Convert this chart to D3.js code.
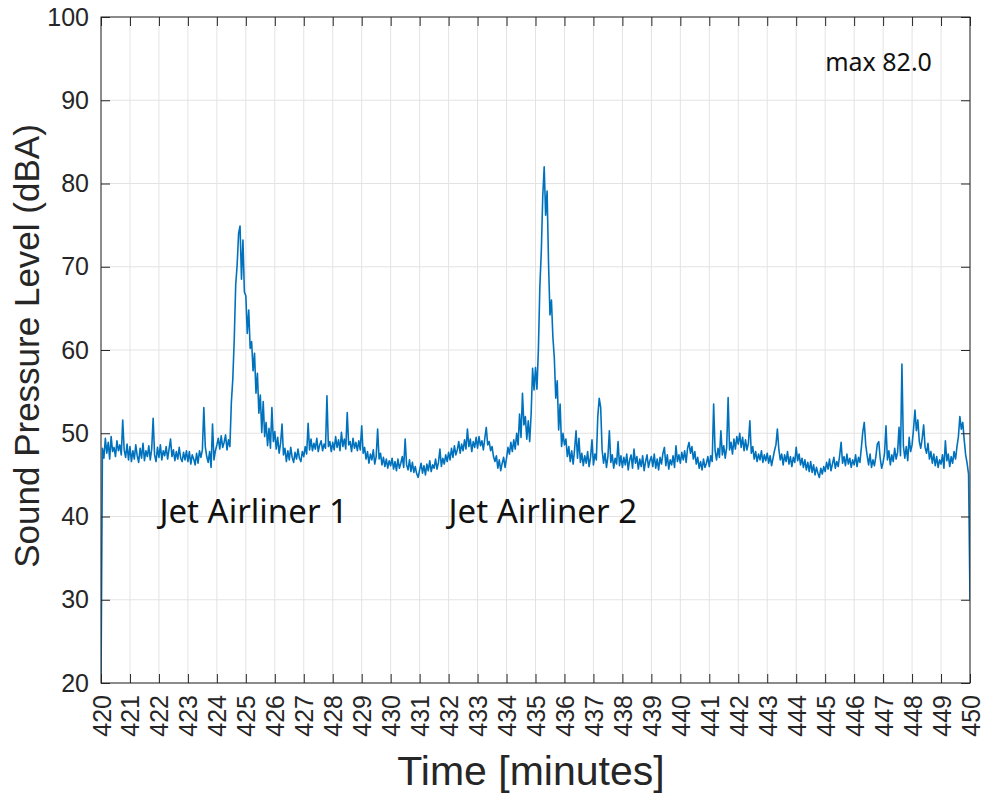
<!DOCTYPE html>
<html>
<head>
<meta charset="utf-8">
<script src="https://cdn.jsdelivr.net/npm/d3@7"></script>
<style>
  body { margin: 0; background: #fff; }
  svg { display: block; }
</style>
</head>
<body>
<svg id="chart" width="984" height="794"></svg>
<script>
// sample clock: first sample at 420 min, one sample every 0.05 min (3 s)
const startTime = 420;
const sampleStep = 0.05;

// sound level (dBA), one row per minute, 20 samples each
const levels = [
  20.0, 48.2, 47.0, 49.4, 47.6, 48.9, 46.9, 49.6, 47.8, 48.3, 47.2, 49.1, 47.9, 48.6, 47.4, 51.6, 48.0, 47.1, 48.7, 46.8,  // 420
  48.4, 46.6, 47.9, 46.9, 48.6, 47.3, 46.5, 48.2, 47.0, 48.8, 46.7, 47.9, 47.2, 48.5, 46.8, 48.1, 51.8, 47.4, 46.6, 48.3,  // 421
  47.1, 48.6, 46.8, 47.9, 47.3, 48.4, 46.9, 48.1, 49.3, 47.2, 48.0, 46.7, 47.8, 46.9, 48.3, 47.0, 46.6, 47.7, 46.8, 47.9,  // 422
  46.6, 47.8, 46.3, 47.4, 46.9, 46.2, 47.6, 46.4, 47.9, 47.1, 48.0, 53.1, 48.4, 47.2, 46.5, 47.8, 45.9, 51.1, 46.8, 47.9,  // 423
  48.6, 49.4, 48.1, 49.7, 48.3, 48.9, 49.8, 48.0, 49.2, 48.4, 53.7, 56.5, 61.3, 67.8, 70.2, 74.0, 74.9, 68.5, 73.2, 67.0,  // 424
  66.5, 62.0, 64.8, 60.2, 61.0, 57.5, 59.6, 54.8, 57.2, 52.4, 54.6, 50.1, 53.8, 49.6, 51.3, 48.5, 50.6, 48.2, 53.1, 49.0,  // 425
  50.2, 48.1, 49.5, 47.6, 48.8, 51.1, 47.4, 48.2, 46.6, 47.9, 46.8, 48.3, 47.1, 46.5, 47.7, 46.9, 48.1, 47.0, 46.6, 47.8,  // 426
  47.2, 48.4, 47.5, 51.2, 48.0, 49.3, 47.9, 48.8, 48.1, 49.4, 47.8, 48.6, 49.1, 47.9, 48.7, 48.2, 54.5, 48.4, 49.0, 47.8,  // 427
  48.9, 48.0, 49.6, 48.3, 49.2, 47.9, 50.1, 48.4, 49.3, 48.1, 52.5, 48.6, 49.0, 47.8, 49.4, 48.2, 48.9, 47.9, 49.1, 48.0,  // 428
  50.9, 47.6, 48.3, 46.9, 47.8, 46.4, 47.5, 46.8, 48.0, 46.3, 47.2, 50.5, 46.9, 47.6, 46.2, 47.1, 46.0, 46.9, 45.8, 46.7,  // 429
  46.1, 47.0, 45.7, 46.6, 45.5, 46.9, 45.8, 46.4, 47.2, 45.9, 49.3, 46.2, 45.6, 46.8, 45.4, 46.5, 45.3, 46.0, 45.1, 44.7,  // 430
  45.6, 46.4, 45.2, 46.1, 45.0, 46.3, 45.5, 46.7, 45.4, 46.2, 45.8, 46.9, 45.7, 46.5, 48.1, 46.0, 47.0, 46.3, 47.4, 46.6,  // 431
  47.7, 46.8, 48.2, 47.1, 48.5, 47.4, 48.0, 49.0, 47.6, 48.7, 47.9, 49.2, 48.1, 50.5, 48.4, 49.3, 47.8, 49.0, 48.3, 49.5,  // 432
  48.2, 49.6, 48.5, 49.1, 48.0, 49.4, 50.7, 48.6, 49.0, 47.9, 48.4, 47.2, 46.6, 47.3, 45.8, 46.8, 45.5, 46.4, 47.1, 45.9,  // 433
  47.0, 48.3, 47.5, 48.9, 47.8, 49.2, 48.1, 50.0, 48.6, 52.3, 49.5, 54.8, 51.0, 52.0, 49.3, 51.5, 49.0, 52.4, 57.8, 55.2,  // 434
  57.9, 55.3, 60.1, 67.6, 71.8, 78.4, 82.0, 76.2, 79.1, 70.4, 64.2, 66.0, 61.6, 59.0, 54.2, 56.3, 50.4, 53.5, 48.4, 50.0,  // 435
  48.6, 49.3, 47.2, 48.4, 46.6, 47.9, 46.3, 48.1, 50.3, 47.0, 49.4, 46.5, 47.6, 46.1, 47.3, 46.4, 47.8, 46.0, 47.1, 49.2,  // 436
  46.2, 47.5, 46.8, 52.0, 54.2, 53.1, 48.0, 46.4, 47.6, 45.9, 47.2, 50.3, 46.5, 47.4, 45.8, 47.0, 46.3, 49.0, 46.1, 47.3,  // 437
  45.9, 47.1, 46.2, 47.5, 45.6, 46.8, 47.4, 45.8, 48.1, 46.4, 47.2, 45.7, 46.9, 46.0, 47.3, 45.5, 46.6, 47.4, 45.9, 46.7,  // 438
  47.2, 46.0, 47.5, 45.8, 46.9, 45.6, 47.1, 46.3, 47.6, 48.3, 46.1, 47.4, 45.7, 46.8, 46.2, 47.3, 45.9, 48.5, 46.6, 47.4,  // 439
  46.4, 47.7, 46.8, 47.9, 46.5, 48.2, 48.9, 47.6, 48.4, 46.9, 47.8, 46.3, 47.1, 45.8, 46.6, 45.6, 46.9, 45.9, 46.4, 47.2,  // 440
  46.0, 47.3, 46.6, 53.5, 47.9, 46.8, 48.2, 47.1, 50.3, 47.4, 48.5, 47.0, 48.3, 54.3, 48.0, 48.9, 47.5, 49.3, 48.1, 49.6,  // 441
  48.7, 50.0, 48.3, 49.5, 47.9, 49.2, 48.0, 48.8, 51.5, 47.6, 48.4, 46.9, 47.8, 46.6, 47.5, 46.8, 47.9, 46.5, 47.4, 46.7,  // 442
  47.6, 46.4, 47.3, 46.1, 47.0, 47.9, 48.6, 50.5, 48.1, 46.8, 47.5, 46.2, 47.4, 46.6, 47.8, 46.3, 47.2, 46.0, 47.1, 46.5,  // 443
  48.3, 46.7, 47.5, 46.2, 47.0, 45.9, 46.8, 45.6, 46.5, 45.4, 46.6, 45.3, 46.2, 45.0, 45.9, 45.2, 44.7, 45.8, 45.1, 46.0,  // 444
  45.4, 46.5, 45.7, 46.9, 45.5, 46.3, 47.1, 45.8, 46.6, 46.0, 47.3, 48.9, 46.4, 47.2, 46.1, 47.5, 46.3, 47.0, 45.9, 46.8,  // 445
  46.2, 47.4, 46.0, 47.1, 46.5, 48.3, 50.2, 51.3, 48.6, 47.3, 46.2, 47.5, 45.9, 46.8, 46.1, 47.2, 48.7, 49.0, 47.0, 45.8,  // 446
  46.5, 47.6, 50.9, 46.8, 47.9, 46.2, 47.4, 46.6, 48.2, 46.9, 47.7, 50.7, 47.3, 58.3, 48.5, 47.0, 48.4, 46.7, 49.5, 47.8,  // 447
  48.6, 50.5, 52.8, 50.3, 51.6, 49.0, 48.2, 49.4, 51.0, 48.3, 47.6, 48.8, 46.9, 47.8, 46.4, 47.5, 46.1, 47.2, 45.9, 46.8,  // 448
  46.3, 47.4, 45.8, 49.1, 46.7, 47.5, 46.0, 47.2, 46.4, 47.8, 46.9, 48.4, 49.6, 52.0, 50.5, 51.3, 49.2, 47.4, 46.4, 45.1,  // 449
  30.0                                                                                                                    // 450
];

const xTicks = d3.range(420, 451);
const yTicks = [20, 30, 40, 50, 60, 70, 80, 90, 100];

const notes = [
  { text: "Jet Airliner 1", t: 422.02, db: 39.25 },
  { text: "Jet Airliner 2", t: 432.0, db: 39.25 }
];

const margin = { top: 17, right: 14, bottom: 111, left: 101 };
const width = 984 - margin.left - margin.right;
const height = 794 - margin.top - margin.bottom;

const tickFont = "'Liberation Sans', Arial, Helvetica, sans-serif";
const noteFont = "'Noto Sans', 'Open Sans', sans-serif";
const ink = "#262626";

const svg = d3.select("#chart");
const g = svg.append("g")
  .attr("transform", "translate(" + margin.left + "," + margin.top + ")");

const x = d3.scaleLinear().domain([420, 450]).range([0, width]);
const y = d3.scaleLinear().domain([20, 100]).range([height, 0]);

// grid
g.append("g").selectAll("line")
  .data(xTicks)
  .enter().append("line")
    .attr("x1", d => x(d)).attr("x2", d => x(d))
    .attr("y1", 0).attr("y2", height)
    .attr("stroke", "#e3e3e3").attr("stroke-width", 1);

g.append("g").selectAll("line")
  .data(yTicks)
  .enter().append("line")
    .attr("x1", 0).attr("x2", width)
    .attr("y1", d => y(d)).attr("y2", d => y(d))
    .attr("stroke", "#e3e3e3").attr("stroke-width", 1);

// the trace
svg.append("defs").append("clipPath").attr("id", "plotclip")
  .append("rect").attr("x", 0).attr("y", 0).attr("width", width).attr("height", height);

const line = d3.line()
  .x((d, i) => x(startTime + i * sampleStep))
  .y(d => y(d));

g.append("path")
  .datum(levels)
  .attr("clip-path", "url(#plotclip)")
  .attr("fill", "none")
  .attr("stroke", "#0072BD")
  .attr("stroke-width", 1.6)
  .attr("stroke-linejoin", "round")
  .attr("d", line);

// axes, ticks pointing inward on all four sides
const xAxis = g.append("g")
  .attr("transform", "translate(0," + height + ")")
  .call(d3.axisBottom(x).tickValues(xTicks).tickSize(-9).tickSizeOuter(0).tickFormat(d3.format("d")));

xAxis.selectAll("text")
  .attr("transform", "rotate(-90)")
  .attr("text-anchor", "end")
  .attr("x", -12)
  .attr("y", 0)
  .attr("dy", "0.36em");

g.append("g")
  .call(d3.axisTop(x).tickValues(xTicks).tickSize(-9).tickSizeOuter(0).tickFormat(""));

g.append("g")
  .call(d3.axisLeft(y).tickValues(yTicks).tickSize(-9).tickSizeOuter(0).tickPadding(12));

g.append("g")
  .attr("transform", "translate(" + width + ",0)")
  .call(d3.axisRight(y).tickValues(yTicks).tickSize(-9).tickSizeOuter(0).tickFormat(""));

g.selectAll(".domain").remove();
g.selectAll(".tick line").attr("stroke", ink).attr("stroke-width", 1);
g.selectAll(".tick text")
  .attr("fill", ink)
  .style("font-family", tickFont)
  .style("font-size", "25px");

// frame
g.append("rect")
  .attr("width", width).attr("height", height)
  .attr("fill", "none").attr("stroke", ink).attr("stroke-width", 1);

// axis titles
svg.append("text")
  .attr("transform", "translate(39," + (margin.top + height / 2 - 4) + ") rotate(-90)")
  .attr("text-anchor", "middle")
  .attr("fill", ink)
  .style("font-family", tickFont)
  .style("font-size", "35px")
  .text("Sound Pressure Level (dBA)");

svg.append("text")
  .attr("x", 531)
  .attr("y", 785)
  .attr("text-anchor", "middle")
  .attr("fill", ink)
  .style("font-family", tickFont)
  .style("font-size", "41px")
  .text("Time [minutes]");

// annotations
g.selectAll(".note")
  .data(notes)
  .enter().append("text")
    .attr("class", "note")
    .attr("x", d => x(d.t))
    .attr("y", d => y(d.db))
    .attr("fill", "#111")
    .style("font-family", noteFont)
    .style("font-size", "33px")
    .text(d => d.text);

g.append("text")
  .attr("x", x(445.0))
  .attr("y", y(93.5))
  .attr("fill", "#111")
  .style("font-family", noteFont)
  .style("font-size", "25px")
  .text("max " + d3.format(".1f")(d3.max(levels)));
</script>
</body>
</html>
